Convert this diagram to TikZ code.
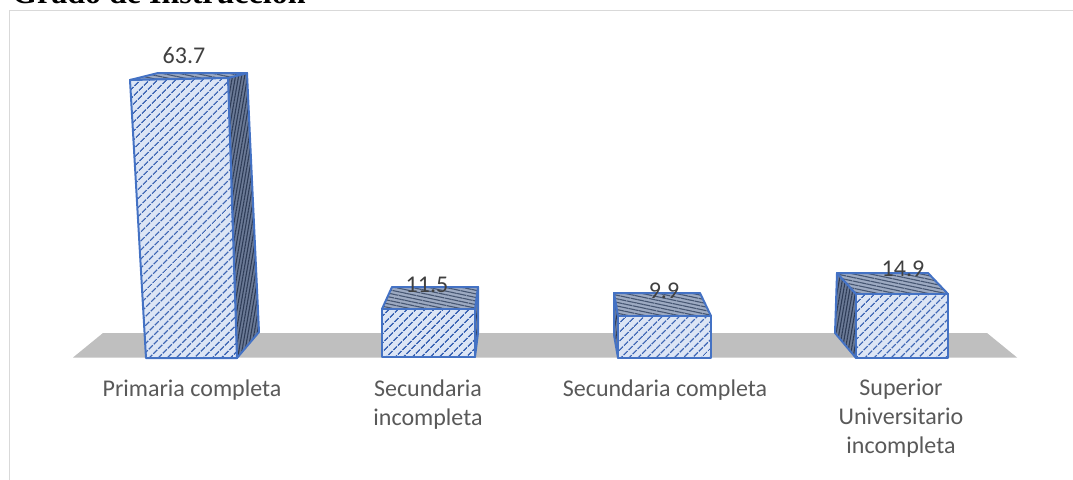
\documentclass[tikz,border=0pt]{standalone}
\usepackage{fontspec}
\setmainfont{Carlito}
\newfontfamily\titlefont{Liberation Serif}
\usepackage{xcolor}
\usepackage{tikz}
\usetikzlibrary{patterns.meta, positioning}
\definecolor{barline}{HTML}{4472C4}
\definecolor{barfill}{HTML}{DCE5F5}
\definecolor{hatch}{HTML}{3E66B4}
\definecolor{topfill}{HTML}{9DAAC2}
\definecolor{tophatch}{HTML}{465672}
\definecolor{sidefill}{HTML}{6B7A96}
\definecolor{sidehatch}{HTML}{2E3C57}
\definecolor{floorgray}{HTML}{BFBFBF}
\definecolor{framegray}{HTML}{D9D9D9}
\definecolor{labelgray}{HTML}{595959}
\definecolor{valuegray}{HTML}{404040}
\tikzstyle{front} = [draw=barline, line width=2pt, line join=round, preaction={fill=barfill}, pattern={Lines[angle=45,distance=6.4pt,line width=1.6pt]}, pattern color=hatch]
\tikzstyle{topface} = [draw=barline, line width=2pt, line join=round, preaction={fill=topfill}, pattern={Lines[angle=-12,distance=3.5pt,line width=1.1pt]}, pattern color=tophatch]
\tikzstyle{sideface} = [draw=barline, line width=2pt, line join=round, preaction={fill=sidefill}, pattern={Lines[angle=80,distance=3pt,line width=1.1pt]}, pattern color=sidehatch]
\tikzstyle{value} = [inner sep=0pt, anchor=base, text=valuegray, font=\fontsize{24}{29}\selectfont]
\tikzstyle{category} = [inner sep=0pt, anchor=base, align=center, text=labelgray, font=\fontsize{24}{29}\selectfont]

\begin{document}
\begin{tikzpicture}[x=1pt, y=-1pt]

  \useasboundingbox (0,0) rectangle (1073,479);
  \clip (0,0) rectangle (1073,479);

  % Title and frame
  \node (title) [inner sep=0pt, anchor=base west] at (12,3) {\titlefont\bfseries\fontsize{32}{36}\selectfont Grado de Instrucción};
  \draw[framegray, line width=1.5pt] (9.5,480) -- (9.5,10.5) -- (1074,10.5);

  % Floor
  \fill[floorgray] (73,357.5) -- (1017,357.5) -- (987,333) -- (103,333) -- cycle;

  % Bars
  \path[sideface] (228,78) -- (247,73) -- (259,332) -- (237,358) -- cycle;
  \path[topface] (130,80) -- (158,73) -- (247,73) -- (228,78) -- cycle;
  \path[front] (130,80) -- (228,78) -- (237,358) -- (146,358) -- cycle;

  \path[sideface] (475,309) -- (478,287) -- (478,333) -- (475,357) -- cycle;
  \path[topface] (382,309) -- (392,287) -- (478,287) -- (475,309) -- cycle;
  \path[front] (382,309) -- (475,309) -- (475,357) -- (382,357) -- cycle;

  \path[sideface] (618,316) -- (614,293) -- (614,335) -- (618,358) -- cycle;
  \path[topface] (618,316) -- (614,293) -- (700,293) -- (711,316) -- cycle;
  \path[front] (618,316) -- (711,316) -- (711,358) -- (618,358) -- cycle;

  \path[sideface] (856,294) -- (837,273) -- (835,333) -- (856,358) -- cycle;
  \path[topface] (856,294) -- (837,273) -- (928,273) -- (948,294) -- cycle;
  \path[front] (856,294) -- (948,294) -- (948,358) -- (856,358) -- cycle;

  % Values
  \node (val1) [value] at (184,63) {63.7};
  \node (val2) [value] at (427,292) {11.5};
  \node (val3) [value] at (664,298) {9.9};
  \node (val4) [value] at (903,276) {14.9};

  % Categories (base = last line)
  \node (cat1) [category] at (192,396) {Primaria completa};
  \node (cat2) [category] at (428,425) {Secundaria\\incompleta};
  \node (cat3) [category] at (665,396) {Secundaria completa};
  \node (cat4) [category] at (901,453) {Superior\\Universitario\\incompleta};

\end{tikzpicture}
\end{document}
